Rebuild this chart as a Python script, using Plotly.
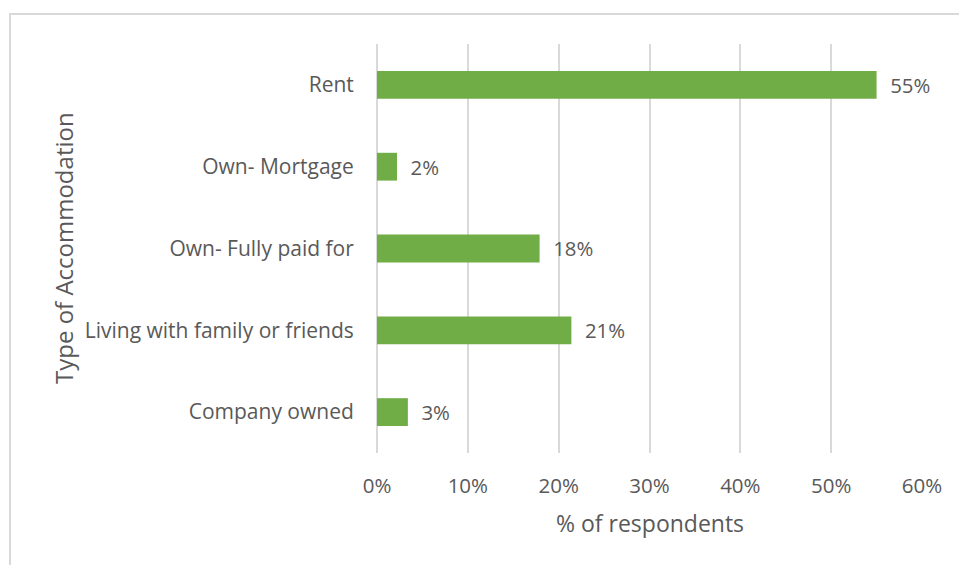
import plotly.graph_objects as go

# Survey: type of accommodation held by respondents
categories = ["Rent", "Own- Mortgage", "Own- Fully paid for",
              "Living with family or friends", "Company owned"]
shares = [55.0, 2.2, 17.9, 21.4, 3.4]  # % of respondents
x_ticks = [0, 10, 20, 30, 40, 50, 60]
x_tick_labels = ["0%", "10%", "20%", "30%", "40%", "50%", "60%"]

W, H = 959, 565
L, R, T, B = 377, 37, 44, 112
pw, ph = W - L - R, H - T - B

FONT = "Open Sans"
GREY = "#595959"
GRID = "#d9d9d9"

fig = go.Figure(go.Bar(
    x=shares, y=categories, orientation="h",
    marker=dict(color="#70AD47", line=dict(width=0)),
    width=0.34,
    texttemplate="  %{x:.0f}%", textposition="outside",
    textfont=dict(family=FONT, size=20.5, color=GREY),
    cliponaxis=False,
))

fig.update_layout(
    width=W, height=H,
    margin=dict(l=L, r=R, t=T, b=B),
    paper_bgcolor="white", plot_bgcolor="white",
    showlegend=False,
    font=dict(family=FONT, color=GREY),
    xaxis=dict(range=[0, 60], tickvals=x_ticks, ticktext=x_tick_labels,
               showgrid=True, gridcolor=GRID, gridwidth=1.5,
               zeroline=True, zerolinecolor=GRID, zerolinewidth=1.5,
               showline=False,
               ticks="outside", ticklen=14, tickcolor="rgba(0,0,0,0)",
               tickfont=dict(family=FONT, size=20.5, color=GREY)),
    yaxis=dict(autorange="reversed", showgrid=False, zeroline=False,
               showline=False,
               ticks="outside", ticklen=18, tickcolor="rgba(0,0,0,0)",
               tickfont=dict(family=FONT, size=21, color=GREY)),
    annotations=[
        dict(text="% of respondents", xref="paper", yref="paper",
             x=(650 - L) / pw, y=-(523 - (T + ph)) / ph,
             showarrow=False, font=dict(family=FONT, size=23, color=GREY),
             xanchor="center", yanchor="middle"),
        dict(text="Type of Accommodation", xref="paper", yref="paper",
             x=(63 - L) / pw, y=1 - (248 - T) / ph, textangle=-90,
             showarrow=False, font=dict(family=FONT, size=24, color=GREY),
             xanchor="center", yanchor="middle"),
    ],
    shapes=[
        dict(type="rect", xref="paper", yref="paper",
             x0=(10 - L) / pw, x1=(W + 20 - L) / pw,
             y0=-(H + 20 - (T + ph)) / ph, y1=1 + (T - 14) / ph,
             line=dict(color=GRID, width=2), layer="below"),
    ],
)

fig.write_html("out.html")
